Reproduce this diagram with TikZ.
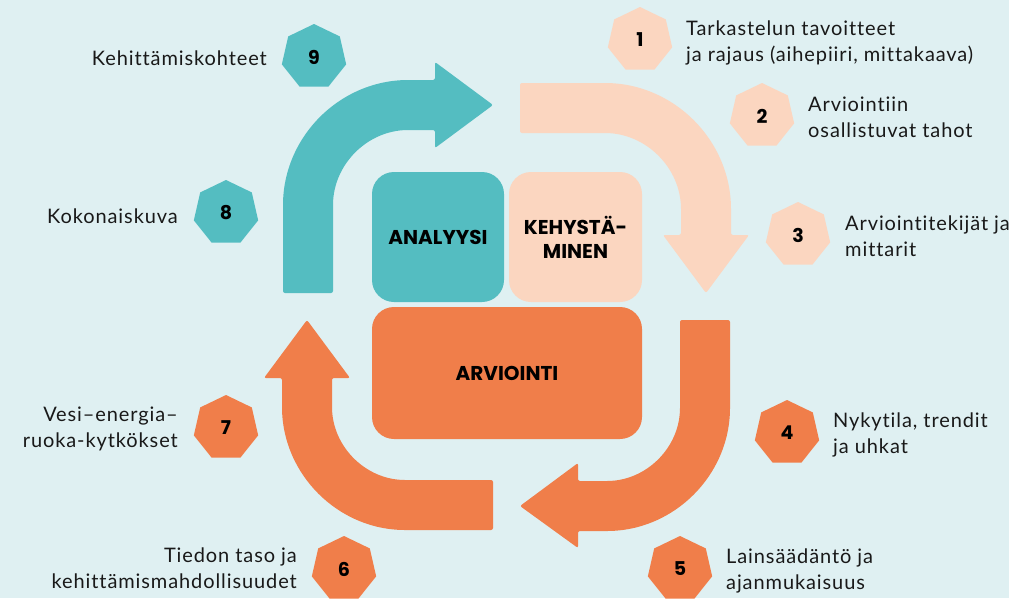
\documentclass[tikz,border=0pt]{standalone}
\usepackage{fontspec}
\setmainfont{Lato}[LetterSpace=4.5, Ligatures=NoCommon]
\newfontfamily\heavy{Poppins}
\usetikzlibrary{shapes.geometric}
\definecolor{bgc}{RGB}{223,240,242}
\definecolor{cteal}{RGB}{84,189,193}
\definecolor{cpeach}{RGB}{251,214,192}
\definecolor{corange}{RGB}{240,126,74}
\definecolor{ctxt}{RGB}{25,25,25}
\tikzset{
  hept/.style={regular polygon, regular polygon sides=7, minimum size=66pt, inner sep=0pt,
    font=\heavy\bfseries\fontsize{19}{19}\selectfont, text=black},
  lbl/.style={font=\fontsize{20}{25.5}\selectfont, inner sep=0pt, text=ctxt},
  lblL/.style={lbl, align=left, anchor=base west},
  lblR/.style={lbl, align=right, anchor=base east},
  bigbox/.style={rounded corners=22pt, inner sep=0pt, align=center,
    font=\heavy\bfseries\fontsize{20}{24}\selectfont, text=black},
  arr/.style={rounded corners=2pt}
}
\begin{document}
\begin{tikzpicture}[x=1pt,y=-1pt]
\fill[bgc] (0,0) rectangle (1009,598);
\useasboundingbox (0,0) rectangle (1009,598);

% curved arrows
\fill[cteal, arr] (283,293) -- (283,207) arc[start angle=180,end angle=270,radius=127]
  -- (435,80) -- (435,62) -- (493,105) -- (435,148) -- (435,130) -- (410,130)
  arc[start angle=270,end angle=180,radius=77] -- (333,293) -- cycle;
\fill[cpeach, arr] (520,83) -- (603,83) arc[start angle=270,end angle=360,radius=128]
  -- (731,235) -- (749,235) -- (706,293) -- (663,235) -- (681,235) -- (681,211)
  arc[start angle=0,end angle=-90,radius=78] -- (520,133) -- cycle;
\fill[corange, arr] (680,320) -- (730,320) -- (730,406) arc[start angle=0,end angle=90,radius=125]
  -- (578,531) -- (578,548) -- (520,506) -- (578,463) -- (578,481) -- (605,481)
  arc[start angle=90,end angle=0,radius=75] -- cycle;
\fill[corange, arr] (493,530) -- (407,530) arc[start angle=90,end angle=180,radius=125]
  -- (282,378) -- (264,378) -- (307,320) -- (350,378) -- (332,378) -- (332,405)
  arc[start angle=180,end angle=90,radius=75] -- (493,480) -- cycle;

% central boxes
\node[bigbox, fill=cteal, minimum width=132pt, minimum height=130pt] (ana) at (438,237) {ANALYYSI};
\node[bigbox, fill=cpeach, minimum width=133pt, minimum height=130pt] (keh) at (575.5,237) {KEHYSTÄ-\\MINEN};
\node[bigbox, fill=corange, minimum width=270pt, minimum height=132pt] (arv) at (507,373) {ARVIOINTI};

% heptagons
\node[hept, fill=cpeach] (h1) at (640,40) {1};
\node[hept, fill=cpeach] (h2) at (762,116) {2};
\node[hept, fill=cpeach] (h3) at (798,235) {3};
\node[hept, fill=corange] (h4) at (787,433) {4};
\node[hept, fill=corange] (h5) at (680,569) {5};
\node[hept, fill=corange] (h6) at (344,569) {6};
\node[hept, fill=corange] (h7) at (226,428) {7};
\node[hept, fill=cteal] (h8) at (226,213) {8};
\node[hept, fill=cteal] (h9) at (314,57) {9};

% labels (base = baseline of last line)
\node[lblL] (t1) at (686,61) {Tarkastelun tavoitteet\\ja rajaus (aihepiiri, mittakaava)};
\node[lblL] (t2) at (808,137) {Arviointiin\\osallistuvat tahot};
\node[lblL] (t3) at (845,256) {Arviointitekijät ja\\mittarit};
\node[lblL] (t4) at (833,453) {Nykytila, trendit\\ja uhkat};
\node[lblL] (t5) at (726,589) {Lainsäädäntö ja\\ajanmukaisuus};
\node[lblR] (t6) at (297,588) {Tiedon taso ja\\kehittämismahdollisuudet};
\node[lblR] (t7) at (178,447) {Vesi–energia–\\ruoka-kytkökset};
\node[lblR] (t8) at (178,223) {Kokonaiskuva};
\node[lblR] (t9) at (267,65) {Kehittämiskohteet};
\end{tikzpicture}
\end{document}
